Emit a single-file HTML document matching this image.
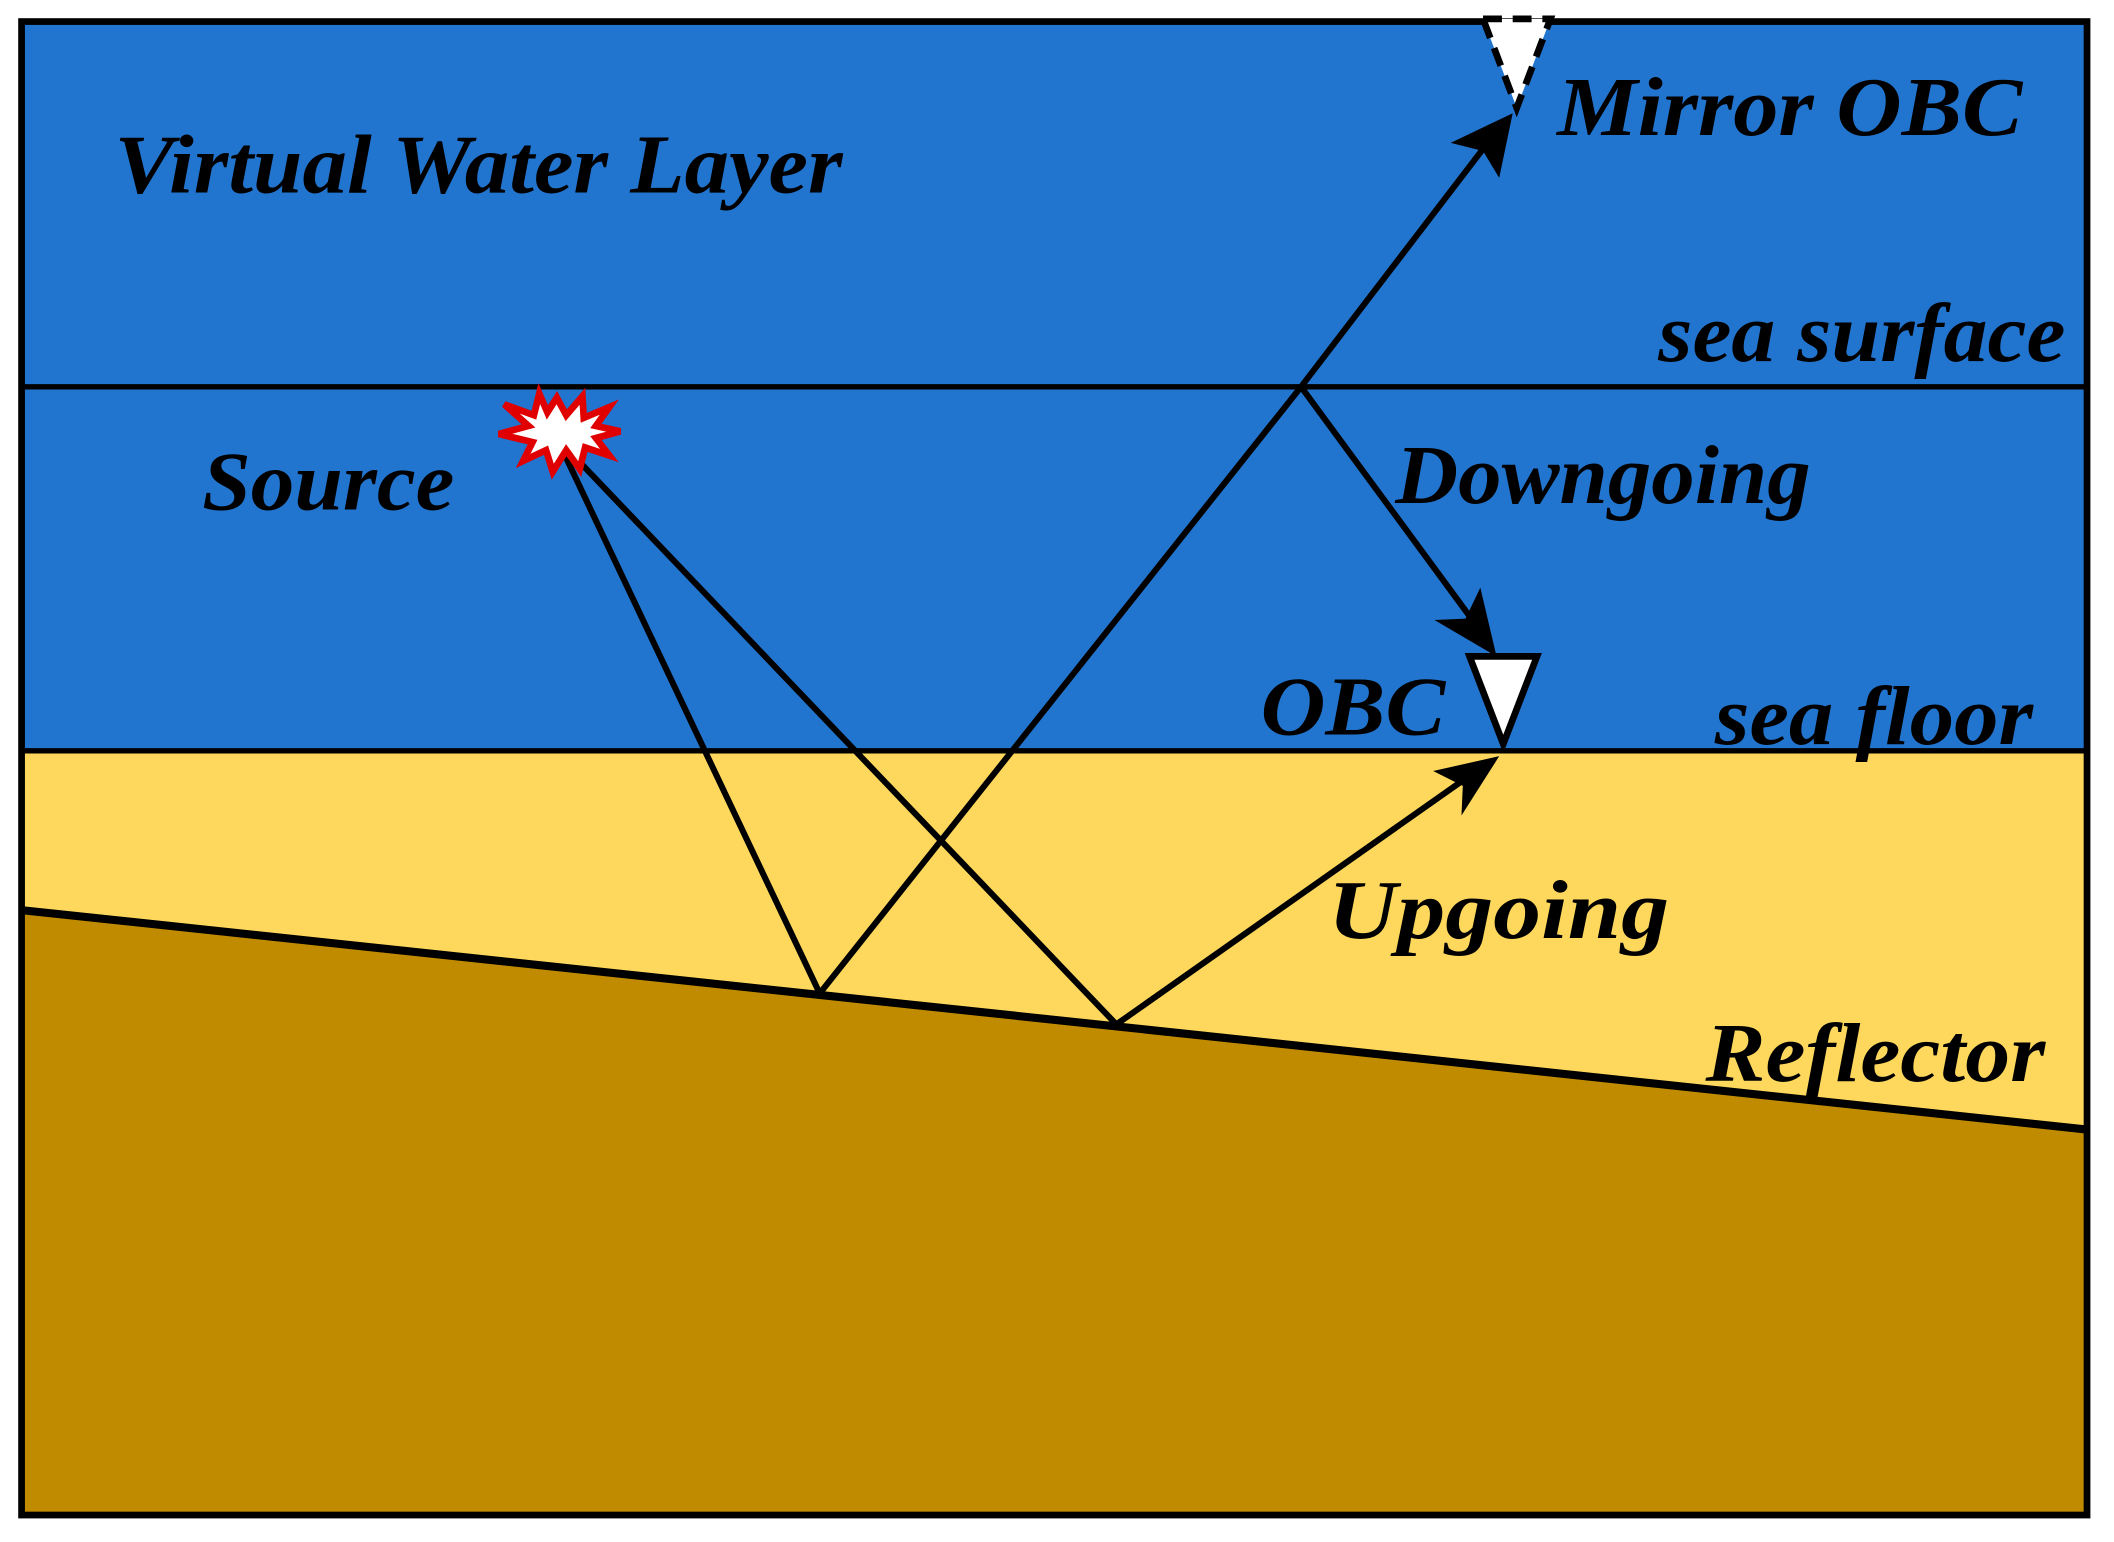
<!DOCTYPE html>
<html><head><meta charset="utf-8"><style>
html,body{margin:0;padding:0;background:#fff;width:2114px;height:1542px;overflow:hidden}
svg{display:block}
text{font-family:"Liberation Serif",serif;font-style:italic;font-weight:bold;fill:#000}
</style></head><body>
<svg width="2114" height="1542" viewBox="0 0 1568 1144" preserveAspectRatio="none" xmlns="http://www.w3.org/2000/svg">
<defs>
<marker id="ar" viewBox="0 0 20 20" refX="18" refY="10" markerWidth="14" markerHeight="14" markerUnits="userSpaceOnUse" orient="auto">
</marker>
</defs>
<rect x="16" y="16" width="1532" height="541" fill="#2275CF"/>
<rect x="16" y="557" width="1532" height="567" fill="#FDD85D"/>
<polygon points="16,675 1548,838 1548,1124 16,1124" fill="#C18B00"/>
<line x1="16" y1="287" x2="1548" y2="287" stroke="#000" stroke-width="4"/>
<line x1="16" y1="557" x2="1548" y2="557" stroke="#000" stroke-width="4"/>
<line x1="14" y1="675" x2="1548" y2="838" stroke="#000" stroke-width="6"/>
<rect x="16" y="16" width="1532" height="1108" fill="none" stroke="#000" stroke-width="5"/>
<!-- rays -->
<g stroke="#000" stroke-width="4.5" fill="none">
<polyline points="413,325 608,737 965,287 1108,100"/>
<polyline points="413,325 828,760 1095,572"/>
<line x1="965" y1="287" x2="1098" y2="468"/>
</g>
<!-- arrowheads -->
<polygon points="1122,84 1112,132 1100,112 1076,106" fill="#000"/>
<polygon points="1110,487 1064,460 1087,459 1098,436" fill="#000"/>
<polygon points="1112,561 1084,605 1085,583 1063,572" fill="#000"/>
<!-- OBC -->
<polygon points="1090,487 1140,487 1115,552" fill="#fff" stroke="#000" stroke-width="5"/>
<polygon points="1100,14 1150,14 1125,80" fill="#fff" stroke="#000" stroke-width="5" stroke-dasharray="14,8"/>
<!-- source star -->
<polygon points="413,295 420,308 432,294 433,310 452,302 442,316 460,320 442,325 452,338 434,332 430,348 420,334 410,350 405,334 388,342 395,328 370,322 392,316 374,300 396,308 400,292 406,306" fill="#fff" stroke="#E00000" stroke-width="5"/>
<!-- labels -->
<text x="85" y="143" font-size="62" textLength="540" lengthAdjust="spacingAndGlyphs">Virtual Water Layer</text>
<text x="1155" y="100" font-size="62" textLength="345" lengthAdjust="spacingAndGlyphs">Mirror OBC</text>
<text x="1230" y="268" font-size="62" textLength="302" lengthAdjust="spacingAndGlyphs">sea surface</text>
<text x="150" y="378" font-size="62" textLength="187" lengthAdjust="spacingAndGlyphs">Source</text>
<text x="1035" y="373" font-size="62" textLength="308" lengthAdjust="spacingAndGlyphs">Downgoing</text>
<text x="935" y="545" font-size="62" textLength="137" lengthAdjust="spacingAndGlyphs">OBC</text>
<text x="1272" y="552" font-size="62" textLength="236" lengthAdjust="spacingAndGlyphs">sea floor</text>
<text x="985" y="696" font-size="62" textLength="253" lengthAdjust="spacingAndGlyphs">Upgoing</text>
<text x="1265" y="802" font-size="62" textLength="252" lengthAdjust="spacingAndGlyphs">Reflector</text>
</svg>
</body></html>
